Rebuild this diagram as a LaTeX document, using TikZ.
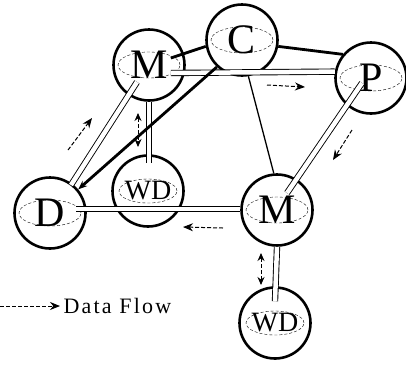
\documentclass[tikz,border=0pt]{standalone}
\usepackage{fontspec}
\setmainfont{Liberation Serif}
\usetikzlibrary{arrows.meta}

\begin{document}
\begin{tikzpicture}[x=1pt,y=-1pt,
        station/.style={circle,draw,line width=2.6pt,minimum size=71pt,inner sep=0pt,font=\fontsize{42}{42}\selectfont},
        wdstation/.style={station,font=\fontsize{28}{28}\selectfont},
        pipe/.style={draw,line width=0.9pt,double=white,double distance=4.5pt},
        link/.style={line width=2.8pt},
        flow/.style={dash pattern=on 4pt off 2pt,line width=1pt,-{Stealth[length=10pt,width=8pt]}},
        bothflow/.style={dash pattern=on 4pt off 2pt,line width=1pt,{Stealth[length=8pt,width=7pt]}-{Stealth[length=8pt,width=7pt]}}]
                        \useasboundingbox (0,0) rectangle (406,365);
                        % stations
                        \node[station] (M1) at (149,65) {M};
                        \node[station] (C) at (242,40) {C};
                        \node[station] (P) at (371,78) {P};
                        \node[wdstation] (WD1) at (148,191) {WD};
                        \node[station] (D) at (50,213) {D};
                        \node[station] (M2) at (277,210) {M};
                        \node[wdstation] (WD2) at (275,323) {WD};
                        \foreach \n in {M1,C,P,D,M2}
                            \draw[densely dashed,thin] (\n.center) ellipse (31pt and 13pt);
                        \foreach \n in {WD1,WD2}
                            \draw[densely dashed,thin] (\n.center) ellipse (29pt and 12pt);

                        % pipes
                        \draw[pipe] ([shift={(-15,8)}]M1.east) -- (P.170);
                        \draw[pipe] ([shift={(-9,5)}]P.center) -- ([shift={(10,-17)}]M2.center);
                        \draw[pipe] ([shift={(-12,17)}]M1.center) -- ([shift={(21,-28)}]D.center);
                        \draw[pipe] (M1.south) -- ([shift={(1,9)}]WD1.north);
                        \draw[pipe] ([shift={(-11,-4)}]D.east) -- ([shift={(0,-1)}]M2.west);
                        \draw[pipe] (M2.south) -- ([shift={(0,15)}]WD2.north);

                        % links
                        \draw[link] ([shift={(-15,-7)}]M1.east) -- (C.190);
                        \draw[link] (C.-10) -- (P.140);
                        \draw[link,-{Stealth[length=9pt,width=7pt]}] (C.-133) -- (D.40);
                        \draw[line width=1.3pt] (C.-80) -- (M2.95);

                        % data flow
                        \draw[flow] (68,150) -- (92,118);
                        \draw[bothflow] (138,113) -- (138,147);
                        \draw[flow] (267,85) -- (305,87);
                        \draw[flow] (352,130) -- (333,160);
                        \draw[flow] (223,228) -- (183,227);
                        \draw[bothflow] (261,253) -- (261,285);

                        % legend
                        \node[anchor=west,font=\fontsize{22}{22}\selectfont\addfontfeature{LetterSpace=10}] (legend) at (60,306) {Data Flow};
                        \coordinate (legtail) at (0,306);
                        \draw[flow] (legtail) -- (legend.west);
                    \end{tikzpicture}
\end{document}
